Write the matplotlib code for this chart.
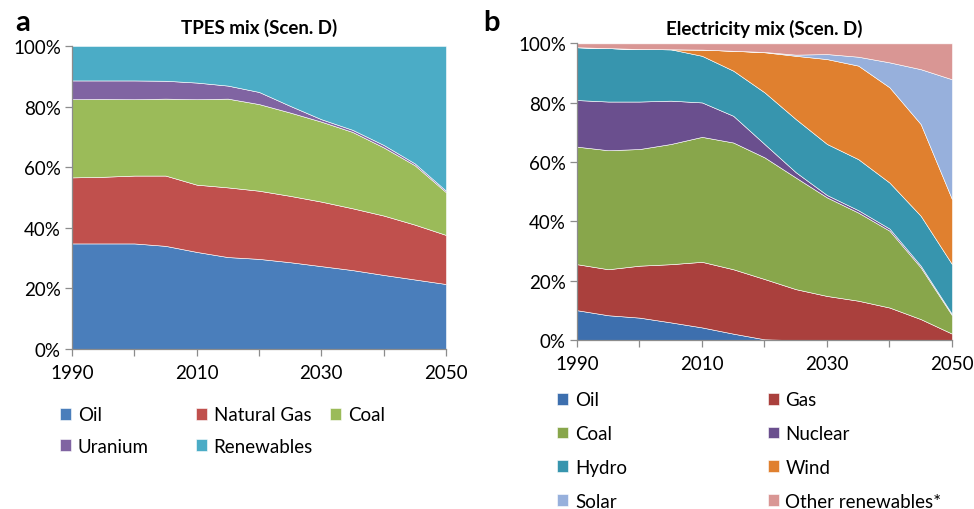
import matplotlib
matplotlib.use('Agg')
import matplotlib.pyplot as plt
from matplotlib.ticker import FixedLocator, FuncFormatter

plt.rcParams['font.family'] = ['Lato', 'DejaVu Sans']

years = [1990, 1995, 2000, 2005, 2010, 2015, 2020, 2025, 2030, 2035, 2040, 2045, 2050]

# (a) TPES mix, share in %
tpes_labels = ['Oil', 'Natural Gas', 'Coal', 'Uranium', 'Renewables']
tpes_colors = ['#4a7ebb', '#c0504d', '#9bbb59', '#8064a2', '#4bacc6']
tpes_oil = [34.8, 34.8, 34.8, 34.0, 32.0, 30.3, 29.7, 28.6, 27.3, 26.0, 24.4, 22.9, 21.4]
tpes_gas = [21.8, 22.0, 22.4, 23.2, 22.2, 23.0, 22.5, 21.9, 21.3, 20.4, 19.6, 18.1, 16.2]
tpes_coal = [25.8, 25.7, 25.2, 25.4, 28.2, 29.3, 28.6, 27.5, 26.4, 25.2, 22.5, 19.6, 14.1]
tpes_uranium = [6.2, 6.1, 6.2, 5.9, 5.5, 4.3, 4.0, 2.2, 0.8, 0.7, 0.8, 0.6, 0.5]
tpes_renew = [11.4, 11.4, 11.4, 11.5, 12.1, 13.1, 15.2, 19.8, 24.2, 27.7, 32.7, 38.8, 47.8]

# (b) electricity mix, share in %
elec_labels = ['Oil', 'Gas', 'Coal', 'Nuclear', 'Hydro', 'Wind', 'Solar', 'Other renewables*']
elec_colors = ['#3d6fae', '#aa403d', '#88a64b', '#6a4f8e', '#3795ae', '#e0802f', '#97b0dc', '#d99694']
elec_oil = [10.1, 8.4, 7.6, 6.0, 4.3, 2.2, 0.3, 0, 0, 0, 0, 0, 0]
elec_gas = [15.5, 15.5, 17.5, 19.6, 22.1, 21.7, 20.3, 17.2, 14.9, 13.3, 11.0, 7.1, 2.2]
elec_coal = [39.6, 40.1, 39.3, 40.5, 42.1, 42.7, 41.0, 37.6, 33.2, 29.7, 25.9, 17.4, 6.2]
elec_nuclear = [15.7, 16.4, 16.0, 14.6, 11.6, 9.0, 4.5, 1.8, 0.8, 0.8, 0.7, 0.6, 0.4]
elec_hydro = [17.8, 18.0, 17.7, 17.3, 15.7, 15.2, 17.4, 17.9, 17.2, 17.2, 15.5, 16.8, 16.8]
elec_wind = [0, 0, 0, 0, 2.1, 6.7, 13.5, 21.3, 28.6, 31.5, 32.1, 30.9, 21.9]
elec_solar = [0, 0, 0, 0, 0, 0, 0.1, 0.4, 1.7, 3.0, 8.4, 18.5, 40.4]
elec_other = [1.3, 1.6, 1.9, 2.0, 2.1, 2.5, 2.9, 3.8, 3.6, 4.5, 6.4, 8.7, 12.1]


def style_axes(ax):
    ax.set_xlim(1990, 2050)
    ax.set_ylim(0, 100)
    for s in ['top', 'right']:
        ax.spines[s].set_visible(False)
    for s in ['left', 'bottom']:
        ax.spines[s].set_color('#8c8c8c')
        ax.spines[s].set_linewidth(0.9)
    ax.xaxis.set_major_locator(FixedLocator([1990, 2010, 2030, 2050]))
    ax.xaxis.set_minor_locator(FixedLocator([2000, 2020, 2040]))
    ax.yaxis.set_major_locator(FixedLocator([0, 20, 40, 60, 80, 100]))
    ax.yaxis.set_major_formatter(FuncFormatter(lambda v, p: '%d%%' % v))
    ax.tick_params(which='both', direction='out', length=5, width=0.9, color='#8c8c8c',
                   labelsize=13.5, labelcolor='black')
    ax.tick_params(axis='x', pad=6)
    ax.tick_params(axis='y', pad=3)


fig = plt.figure(figsize=(9.74, 5.10), dpi=100)

# panel a
ax1 = fig.add_axes([0.0739, 0.314, 0.384, 0.594])
polys1 = ax1.stackplot(years, tpes_oil, tpes_gas, tpes_coal, tpes_uranium, tpes_renew,
                       colors=tpes_colors, edgecolor='white', linewidth=0.4)
style_axes(ax1)
ax1.set_title('TPES mix (Scen. D)', fontsize=13.5, fontweight='bold', pad=9)
fig.text(0.016, 0.94, 'a', fontsize=21, fontweight='bold')

# panel b
ax2 = fig.add_axes([0.5924, 0.331, 0.385, 0.582])
polys2 = ax2.stackplot(years, elec_oil, elec_gas, elec_coal, elec_nuclear, elec_hydro,
                       elec_wind, elec_solar, elec_other,
                       colors=elec_colors, edgecolor='white', linewidth=0.4)
style_axes(ax2)
ax2.set_title('Electricity mix (Scen. D)', fontsize=13.5, fontweight='bold', pad=7)
fig.text(0.496, 0.94, 'b', fontsize=21, fontweight='bold')

leg_kw = dict(loc='upper left', frameon=False, fontsize=13.5, handlelength=0.6,
              handleheight=0.6, handletextpad=0.35, borderpad=0, borderaxespad=0)

# legend a: columns placed like the original
for idx, x in [([0, 3], 0.0616), ([1, 4], 0.201), ([2], 0.339)]:
    fig.legend([polys1[i] for i in idx], [tpes_labels[i] for i in idx],
               bbox_to_anchor=(x, 0.201), labelspacing=0.75, **leg_kw)

# legend b
for idx, x in [([0, 2, 4, 6], 0.572), ([1, 3, 5, 7], 0.788)]:
    fig.legend([polys2[i] for i in idx], [elec_labels[i] for i in idx],
               bbox_to_anchor=(x, 0.231), labelspacing=0.9, **leg_kw)

fig.savefig('out.png', dpi=100)
